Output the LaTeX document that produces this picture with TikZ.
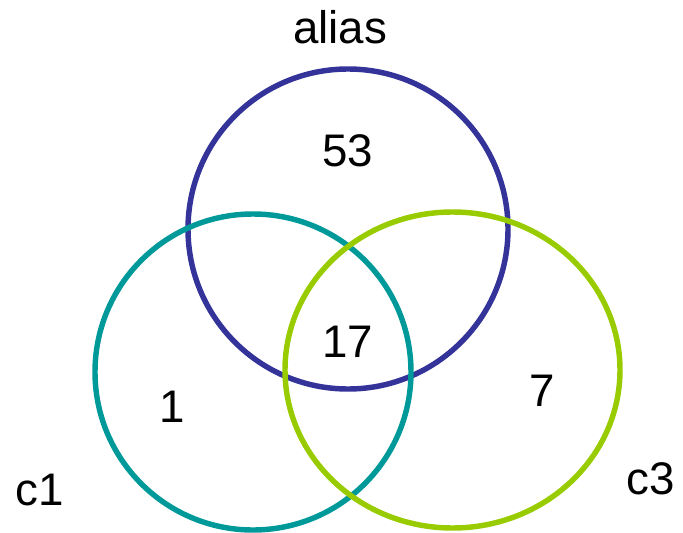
\documentclass[tikz,border=0pt]{standalone}
\usepackage{fontspec}
\setmainfont{Liberation Sans}
\usepackage{tikz}
\usetikzlibrary{positioning}
\definecolor{vennA}{RGB}{51,51,153}
\definecolor{vennB}{RGB}{0,153,153}
\definecolor{vennC}{RGB}{153,204,0}
\tikzset{set/.style={line width=3.1pt},
	num/.style={font=\fontsize{26}{30}\selectfont, inner sep=0pt}}

\begin{document}
\begin{tikzpicture}[x=0.02cm,y=0.02cm]
		\useasboundingbox (0,0) rectangle (683,532);
		\draw[set,color=vennA] (348,303) circle (160);
		\draw[set,color=vennB] (253,160) circle (158);
		\draw[set,color=vennC] (452.5,162) ellipse (167.5 and 158);
		\node[num] (alias) at (340,505) {alias};
		\node[num] (nA) at (348,381) {53};
		\node[num] (nABC) at (348,190) {17};
		\node[num] (nB) at (172,125) {1};
		\node[num] (nC) at (542,141) {7};
		\node[num] (c1) at (40,42) {c1};
		\node[num] (c3) at (651,53) {c3};
		\end{tikzpicture}
\end{document}
